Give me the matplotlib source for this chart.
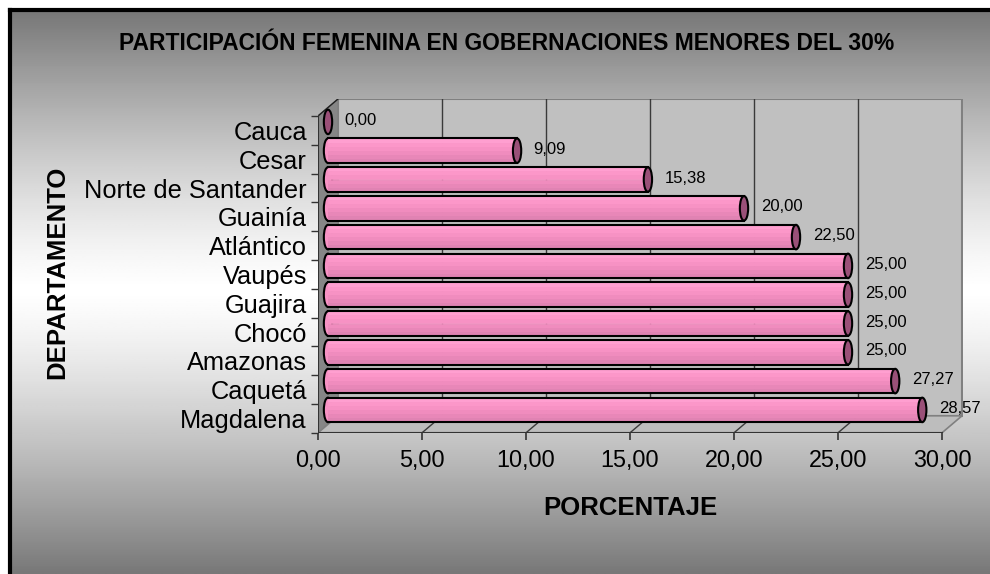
import numpy as np
import matplotlib
matplotlib.use('Agg')
import matplotlib.pyplot as plt
from matplotlib.patches import Ellipse, Polygon, Rectangle

plt.rcParams['font.family'] = ['Liberation Sans', 'DejaVu Sans']

# datos
departamentos = ['Cauca', 'Cesar', 'Norte de Santander', 'Guainía', 'Atlántico', 'Vaupés',
                 'Guajira', 'Chocó', 'Amazonas', 'Caquetá', 'Magdalena']
porcentajes = [0.00, 9.09, 15.38, 20.00, 22.50, 25.00, 25.00, 25.00, 25.00, 27.27, 28.57]
xticks = [0, 5, 10, 15, 20, 25, 30]

titulo = 'PARTICIPACIÓN FEMENINA EN GOBERNACIONES MENORES DEL 30%'

W, H = 990, 574
fig = plt.figure(figsize=(W / 100, H / 100), dpi=100)
fig.patch.set_facecolor('white')

# fondo con degradado (gris - blanco - gris) y marco negro
bg = fig.add_axes([0, 0, 1, 1])
bg.set_xlim(0, W)
bg.set_ylim(H, 0)
bg.axis('off')
yy = np.linspace(8, H, 300)
t = np.where(yy < 290, (yy - 290) / 278, (yy - 290) / 284)
v = (120 + 135 * (1 - np.abs(t) ** 1.3)) / 255
grad = np.repeat(v[:, None], 2, axis=1)
bg.imshow(grad, cmap='gray', vmin=0, vmax=1, extent=(8, W, H, 8), aspect='auto', zorder=0)
bg.plot([9.5, 9.5], [H, 9.5], color='black', lw=3, solid_capstyle='projecting')
bg.plot([9.5, W], [9.5, 9.5], color='black', lw=3, solid_capstyle='projecting')

# ejes principales (profundidad 3D simulada)
px_x = 20.8   # px por unidad
px_y = 28.8   # px por categoria
dx = 20 / px_x
dy = -17 / px_y
xmax = 31
ytop = -1.1
left_px, bottom_px = 318, 432.8
top_px = bottom_px - (10.5 - ytop) * px_y
ax = fig.add_axes([left_px / W, (H - bottom_px) / H, xmax * px_x / W, (bottom_px - top_px) / H])
ax.set_xlim(0, xmax)
ax.set_ylim(10.5, ytop)
ax.patch.set_visible(False)
for s in ax.spines.values():
    s.set_visible(False)

n = len(departamentos)
y0, y1 = -0.5, n - 0.5

# pared del fondo
ax.add_patch(Rectangle((dx, y0 + dy), 30, n, facecolor='#c0c0c0', edgecolor='#808080', lw=1.5, zorder=1))
# pared lateral
ax.add_patch(Polygon([(0, y0), (dx, y0 + dy), (dx, y1 + dy), (0, y1)], closed=True,
                     facecolor='#868686', edgecolor='#808080', lw=1, zorder=1))
# piso
ax.add_patch(Polygon([(0, y1), (dx, y1 + dy), (30 + dx, y1 + dy), (30, y1)], closed=True,
                     facecolor='#bdbdbd', edgecolor='#808080', lw=1.2, zorder=1))
ax.plot([0, dx], [y0, y0 + dy], color='#202020', lw=1, zorder=2)

# lineas de cuadricula
for k in xticks[1:-1]:
    ax.plot([k + dx, k + dx], [y0 + dy, y1 + dy], color='#3a3a3a', lw=1, zorder=2)
    ax.plot([k, k + dx], [y1, y1 + dy], color='#3a3a3a', lw=1, zorder=2)

# ejes frontales
ax.plot([0, 30], [y1, y1], color='#333333', lw=1.5, zorder=3)
ax.plot([0, 0], [y0, y1], color='#333333', lw=1.5, zorder=3)

# cilindros
bar_h = 0.85
cap_w = 0.4
bands = ['#ff9fd0', '#fc97c9', '#f792c4', '#f08cbe', '#e887b8', '#e083b3']
for i, (d, p) in enumerate(zip(departamentos, porcentajes)):
    yc = i + dy / 2
    xs = dx / 2
    xe = p + dx / 2
    if p > 0:
        ax.add_patch(Ellipse((xs, yc), cap_w, bar_h, facecolor=bands[2], edgecolor='black', lw=1.5, zorder=4))
        nb = len(bands)
        hb = bar_h / nb
        for j, c in enumerate(bands):
            ax.barh(yc - bar_h / 2 + hb * (j + 0.5), xe - xs, height=hb, left=xs,
                    color=c, edgecolor=c, lw=0.6, zorder=5)
        ax.plot([xs, xe], [yc - bar_h / 2, yc - bar_h / 2], color='black', lw=1.5, zorder=6)
        ax.plot([xs, xe], [yc + bar_h / 2, yc + bar_h / 2], color='black', lw=1.5, zorder=6)
    ax.add_patch(Ellipse((xe, yc), cap_w, bar_h, facecolor='#9a5078', edgecolor='black', lw=1.5, zorder=7))
    ax.annotate(f'{p:.2f}'.replace('.', ','), (xe, yc), xytext=(12, 1), textcoords='offset points',
                ha='left', va='center', fontsize=12, color='black', zorder=8)

# ticks
ax.set_yticks(range(n))
ax.set_yticklabels(departamentos, fontsize=18.3)
ax.set_yticks(np.arange(-0.5, n, 1), minor=True)
ax.tick_params(axis='y', which='major', length=0, pad=8)
ax.tick_params(axis='y', which='minor', length=5, width=1, color='#333333', direction='out')
ax.set_xticks(xticks)
ax.set_xticklabels([f'{x:.2f}'.replace('.', ',') for x in xticks], fontsize=16.8)
ax.tick_params(axis='x', length=5, width=1.2, color='#333333', direction='out', pad=7)

fig.text(507 / W, 1 - 43 / H, titulo, ha='center', va='center', fontsize=16.5, fontweight='bold')
fig.text(57 / W, 1 - 272 / H, 'DEPARTAMENTO', ha='center', va='center', rotation=90,
         fontsize=18.5, fontweight='bold')
fig.text(630 / W, 1 - 508 / H, 'PORCENTAJE', ha='center', va='center', fontsize=18.5, fontweight='bold')

fig.savefig('out.png', dpi=100)
